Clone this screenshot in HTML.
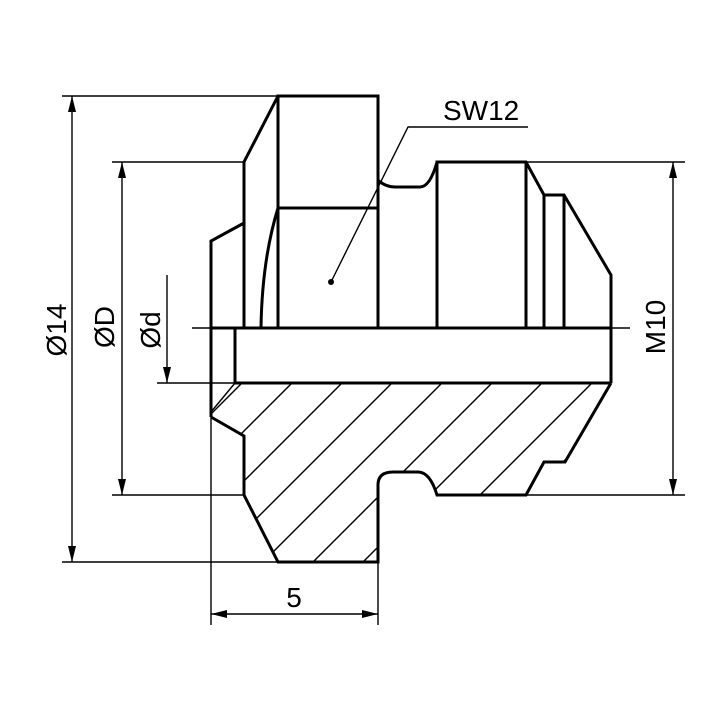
<!DOCTYPE html>
<html><head><meta charset="utf-8"><style>
html,body{margin:0;padding:0;background:#fff;width:720px;height:720px;overflow:hidden}
svg{display:block}
text{font-family:"Liberation Sans",sans-serif;fill:#000}
</style></head><body>
<svg width="720" height="720" viewBox="0 0 720 720" xmlns="http://www.w3.org/2000/svg">
<defs>
<clipPath id="sec"><path d="M211,383 L611,383 L565,462 L544,462 L526,495 L437,495 Q430,472 418,472 L393,472 Q378,472 378,485 L378,562 L278,562 L244,495 L244,436 L211,417 Z"/></clipPath>
</defs>
<g stroke="#000" stroke-width="1.4" fill="none">
<g clip-path="url(#sec)">
<line x1="245" y1="380" x2="55" y2="570"/><line x1="295" y1="380" x2="105" y2="570"/>
<line x1="345" y1="380" x2="155" y2="570"/><line x1="395" y1="380" x2="205" y2="570"/>
<line x1="445" y1="380" x2="255" y2="570"/><line x1="495" y1="380" x2="305" y2="570"/>
<line x1="545" y1="380" x2="355" y2="570"/><line x1="595" y1="380" x2="405" y2="570"/>
<line x1="645" y1="380" x2="455" y2="570"/>
</g>
<line x1="62" y1="96" x2="278" y2="96"/>
<line x1="112" y1="162" x2="244" y2="162"/>
<line x1="112" y1="495" x2="244" y2="495"/>
<line x1="62" y1="562" x2="278" y2="562"/>
<line x1="192" y1="328" x2="630" y2="328"/>
<line x1="157" y1="383" x2="235" y2="383"/>
<line x1="526" y1="162" x2="685" y2="162"/>
<line x1="526" y1="495" x2="685" y2="495"/>
<line x1="211" y1="417" x2="211" y2="625"/>
<line x1="378" y1="562" x2="378" y2="625"/>
<line x1="72" y1="96" x2="72" y2="562"/>
<line x1="122" y1="162" x2="122" y2="495"/>
<line x1="167" y1="275" x2="167" y2="383"/>
<line x1="673" y1="162" x2="673" y2="495"/>
<line x1="211" y1="614" x2="378" y2="614"/>
<polyline points="331,282 408,127 528,127"/>
<line x1="235" y1="383" x2="211" y2="412"/>
</g>
<g fill="#000">
<polygon points="72,96 68,112 76,112"/><polygon points="72,562 68,546 76,546"/>
<polygon points="122,162 118,178 126,178"/><polygon points="122,495 118,479 126,479"/>
<polygon points="167,383 163,367 171,367"/>
<polygon points="673,162 669,178 677,178"/><polygon points="673,495 669,479 677,479"/>
<polygon points="211,614 227,610 227,618"/><polygon points="378,614 362,610 362,618"/>
<circle cx="331" cy="282" r="3"/>
</g>
<g stroke="#000" stroke-width="3" fill="none" stroke-linejoin="miter">
<polyline points="378,180 378,96 278,96 278,328"/>
<line x1="278" y1="208" x2="378" y2="208"/>
<path d="M278,208 Q262,260 261,328"/>
<polyline points="278,96 244,162 244,328"/>
<polyline points="244,223 211,241 211,417"/>
<line x1="235" y1="328" x2="235" y2="383"/>
<line x1="378" y1="180" x2="378" y2="328"/>
<path d="M378,180 Q385,187 395,187 L420,187 Q430,187 437,162"/>
<polyline points="437,328 437,162 526,162 544,195 564,195 611,275 611,383"/>
<line x1="526" y1="162" x2="526" y2="328"/>
<line x1="544" y1="195" x2="544" y2="328"/>
<line x1="564" y1="195" x2="564" y2="328"/>
<line x1="211" y1="328" x2="611" y2="328"/>
<line x1="235" y1="383" x2="611" y2="383"/>
<path d="M611,383 L565,462 L544,462 L526,495 L437,495 Q430,472 418,472 L393,472 Q378,472 378,485 L378,562 L278,562 L244,495 L244,436 L211,417"/>
</g>
<text x="443" y="120" font-size="28">SW12</text>
<text x="294" y="607" font-size="28" text-anchor="middle">5</text>
<text transform="translate(665,327) rotate(-90)" font-size="28" text-anchor="middle">M10</text>
<text transform="translate(66,330) rotate(-90)" font-size="28" text-anchor="middle">Ø14</text>
<text transform="translate(114,327) rotate(-90)" font-size="28" text-anchor="middle">ØD</text>
<text transform="translate(160,330) rotate(-90)" font-size="28" text-anchor="middle">Ød</text>
</svg>
</body></html>
